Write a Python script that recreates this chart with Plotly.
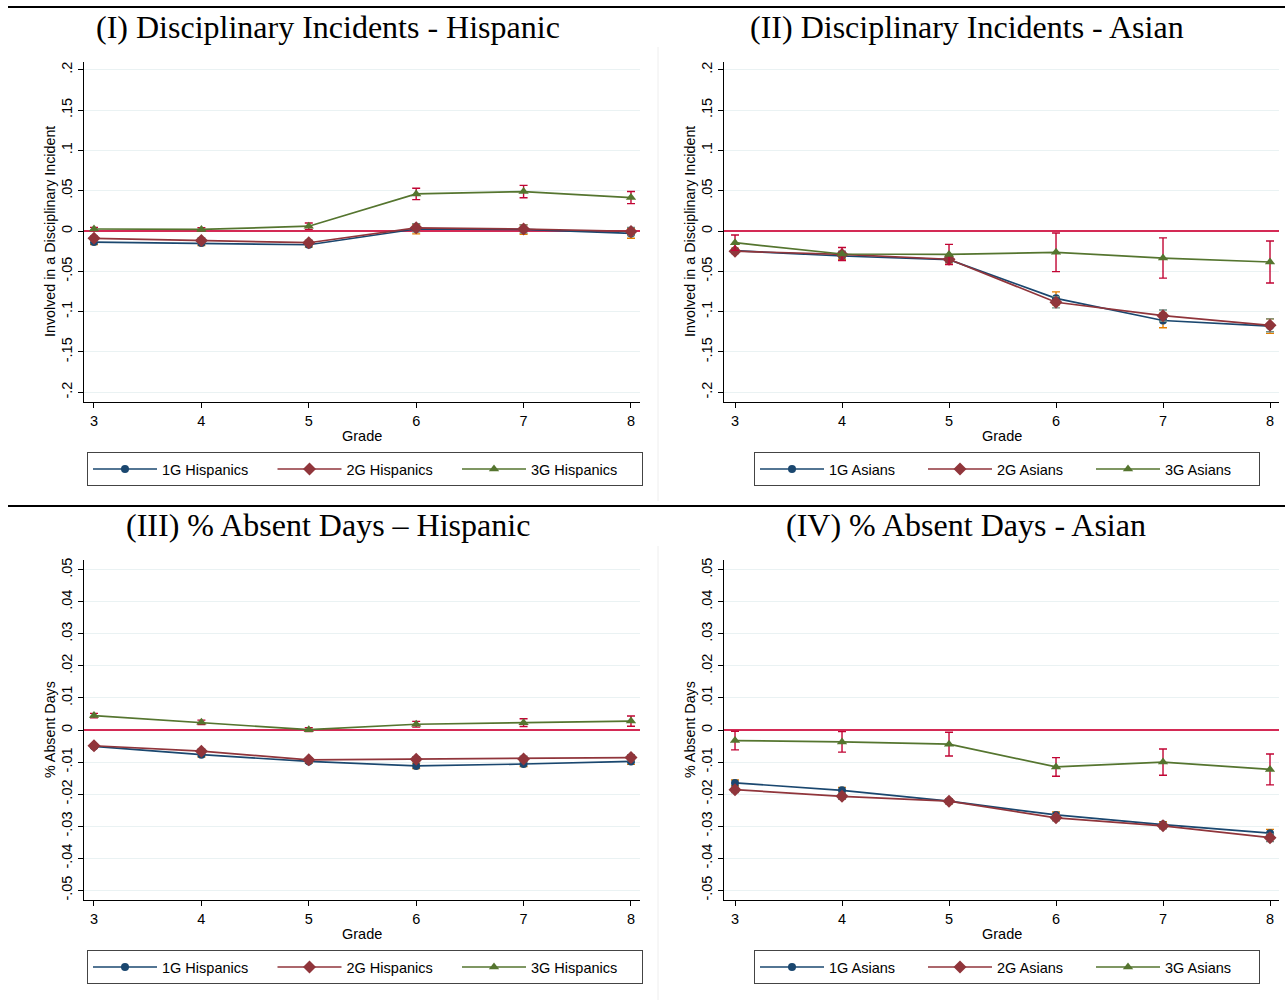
import plotly.graph_objects as go

# ---------------- data ----------------
grades = [3, 4, 5, 6, 7, 8]

# (I) Disciplinary incidents - Hispanic
h_disc_1g = [-0.0137, -0.015, -0.017, 0.0025, 0.002, -0.003]
h_disc_1g_ci = [0.003, 0.003, 0.003, 0.006, 0.006, 0.006]
h_disc_2g = [-0.009, -0.0116, -0.0145, 0.004, 0.0025, -0.0005]
h_disc_2g_ci = [0.003, 0.003, 0.003, 0.005, 0.005, 0.005]
h_disc_3g = [0.0025, 0.002, 0.006, 0.046, 0.049, 0.0415]
h_disc_3g_ci = [0.002, 0.002, 0.004, 0.007, 0.0077, 0.0075]

# (II) Disciplinary incidents - Asian
a_disc_1g = [-0.0244, -0.031, -0.0355, -0.0835, -0.111, -0.118]
a_disc_1g_ci = [0.003, 0.004, 0.004, 0.008, 0.009, 0.009]
a_disc_2g = [-0.025, -0.029, -0.035, -0.0884, -0.105, -0.117]
a_disc_2g_ci = [0.003, 0.004, 0.004, 0.007, 0.007, 0.008]
a_disc_3g = [-0.0145, -0.0285, -0.029, -0.0264, -0.0335, -0.0384]
a_disc_3g_ci = [0.0095, 0.008, 0.0125, 0.024, 0.025, 0.026]

# (III) % Absent days - Hispanic
h_abs_1g = [-0.0051, -0.0077, -0.0098, -0.0112, -0.0106, -0.0098]
h_abs_1g_ci = [0.0006, 0.0007, 0.0006, 0.0008, 0.0008, 0.0009]
h_abs_2g = [-0.0049, -0.0066, -0.0093, -0.0091, -0.009, -0.0086]
h_abs_2g_ci = [0.0006, 0.0007, 0.0006, 0.0008, 0.0008, 0.0009]
h_abs_3g = [0.0045, 0.0024, 0.0001, 0.0018, 0.0023, 0.0028]
h_abs_3g_ci = [0.0007, 0.0007, 0.0006, 0.0009, 0.0012, 0.0016]

# (IV) % Absent days - Asian
a_abs_1g = [-0.0165, -0.0188, -0.0222, -0.0265, -0.0295, -0.0322]
a_abs_1g_ci = [0.0009, 0.0009, 0.0008, 0.0009, 0.0009, 0.0012]
a_abs_2g = [-0.0186, -0.0207, -0.0222, -0.0274, -0.0299, -0.0336]
a_abs_2g_ci = [0.0009, 0.0009, 0.0008, 0.0009, 0.0009, 0.0012]
a_abs_3g = [-0.0033, -0.0037, -0.0044, -0.0115, -0.010, -0.0123]
a_abs_3g_ci = [0.0029, 0.0032, 0.0037, 0.0029, 0.0041, 0.0048]

disc_ticks = [-0.2, -0.15, -0.1, -0.05, 0, 0.05, 0.1, 0.15, 0.2]
disc_ticktext = ["-.2", "-.15", "-.1", "-.05", "0", ".05", ".1", ".15", ".2"]
abs_ticks = [-0.05, -0.04, -0.03, -0.02, -0.01, 0, 0.01, 0.02, 0.03, 0.04, 0.05]
abs_ticktext = ["-.05", "-.04", "-.03", "-.02", "-.01", "0", ".01", ".02", ".03", ".04", ".05"]

titles = ["(I) Disciplinary Incidents - Hispanic", "(II) Disciplinary Incidents - Asian",
          "(III) % Absent Days \u2013 Hispanic", "(IV) % Absent Days - Asian"]
hisp_names = ["1G Hispanics", "2G Hispanics", "3G Hispanics"]
asian_names = ["1G Asians", "2G Asians", "3G Asians"]
disc_ytitle = "Involved in a Disciplinary Incident"
abs_ytitle = "% Absent Days"
xtitle = "Grade"

# ---------------- style ----------------
W, H = 1285, 1000
line_colors = ["#1a476f", "#90353b", "#55752f"]
err_colors = ["#e37e00", "#6e8e84", "#c10534"]
symbols = ["circle", "diamond", "triangle-up"]
msizes = [8, 10, 9]
FONT = "Arial, Liberation Sans, sans-serif"
SERIF = "Times New Roman, Liberation Serif, serif"

def px_x(p):
    return p / W

def px_y(p):
    return 1 - p / H

panels = [
    dict(series=[(h_disc_1g, h_disc_1g_ci), (h_disc_2g, h_disc_2g_ci), (h_disc_3g, h_disc_3g_ci)],
         names=hisp_names, ticks=disc_ticks, ticktext=disc_ticktext, ytitle=disc_ytitle,
         xpx=(84, 640), ypx=(60, 401), xr=(2.907, 8.084), yr=(-0.2124, 0.2099),
         leg=(365, 468), entry=105.5),
    dict(series=[(a_disc_1g, a_disc_1g_ci), (a_disc_2g, a_disc_2g_ci), (a_disc_3g, a_disc_3g_ci)],
         names=asian_names, ticks=disc_ticks, ticktext=disc_ticktext, ytitle=disc_ytitle,
         xpx=(724, 1279), ypx=(60, 401), xr=(2.897, 8.084), yr=(-0.2124, 0.2099),
         leg=(1007, 468), entry=89),
    dict(series=[(h_abs_1g, h_abs_1g_ci), (h_abs_2g, h_abs_2g_ci), (h_abs_3g, h_abs_3g_ci)],
         names=hisp_names, ticks=abs_ticks, ticktext=abs_ticktext, ytitle=abs_ytitle,
         xpx=(84, 640), ypx=(559, 900), xr=(2.907, 8.084), yr=(-0.0531, 0.0531),
         leg=(365, 967), entry=105.5),
    dict(series=[(a_abs_1g, a_abs_1g_ci), (a_abs_2g, a_abs_2g_ci), (a_abs_3g, a_abs_3g_ci)],
         names=asian_names, ticks=abs_ticks, ticktext=abs_ticktext, ytitle=abs_ytitle,
         xpx=(724, 1279), ypx=(559, 900), xr=(2.897, 8.084), yr=(-0.0531, 0.0531),
         leg=(1007, 967), entry=89),
]
title_centers = [(328, 25), (967, 25), (328, 524), (966, 524)]

fig = go.Figure()
layout = dict(width=W, height=H, autosize=False, margin=dict(l=0, r=0, t=0, b=0),
              paper_bgcolor="white", plot_bgcolor="white", showlegend=True,
              font=dict(family=FONT, size=14, color="black"))
shapes = []
annotations = []

for i, p in enumerate(panels):
    k = "" if i == 0 else str(i + 1)
    xa, ya = "x" + k, "y" + k
    legname = "legend" + k
    for j, (vals, ci) in enumerate(p["series"]):
        fig.add_trace(go.Scatter(
            x=grades, y=vals, name=p["names"][j], mode="lines+markers",
            xaxis=xa, yaxis=ya, legend=legname,
            line=dict(color=line_colors[j], width=1.7),
            marker=dict(symbol=symbols[j], size=msizes[j], color=line_colors[j]),
            error_y=dict(type="data", array=ci, visible=True, color=err_colors[j],
                         thickness=1.4, width=4),
        ))
    layout["xaxis" + k] = dict(
        domain=[px_x(p["xpx"][0]), px_x(p["xpx"][1])], range=list(p["xr"]), anchor=ya,
        tickvals=grades, ticktext=[str(g) for g in grades], ticks="outside", ticklen=5,
        tickcolor="black", showline=True, linecolor="black", linewidth=1,
        showgrid=False, zeroline=False, tickfont=dict(family=FONT, size=14.5, color="black"))
    # the zero reference line is the y axis zeroline (red)
    layout["yaxis" + k] = dict(
        domain=[px_y(p["ypx"][1]), px_y(p["ypx"][0])], range=list(p["yr"]), anchor=xa,
        tickvals=p["ticks"], ticktext=p["ticktext"], tickangle=-90, ticks="outside",
        ticklen=5, tickcolor="black", showline=True, linecolor="black", linewidth=1,
        showgrid=True, gridcolor="#eaf2f3", gridwidth=1,
        zeroline=True, zerolinecolor="#d42a55", zerolinewidth=1.6,
        tickfont=dict(family=FONT, size=14.5, color="black"))
    # y title
    annotations.append(dict(text=p["ytitle"], textangle=-90, xref="paper", yref="paper",
                            x=px_x(p["xpx"][0] - 34), y=px_y((p["ypx"][0] + p["ypx"][1]) / 2),
                            xanchor="center", yanchor="middle",
                            showarrow=False, font=dict(family=FONT, size=14.3, color="black")))
    # x title
    annotations.append(dict(text=xtitle, xref="paper", yref="paper",
                            x=px_x((p["xpx"][0] + p["xpx"][1]) / 2), y=px_y(p["ypx"][1] + 34),
                            xanchor="center", yanchor="middle",
                            showarrow=False, font=dict(family=FONT, size=14.5, color="black")))
    # panel title
    tx, ty = title_centers[i]
    annotations.append(dict(text=titles[i], xref="paper", yref="paper", x=px_x(tx), y=px_y(ty),
                            xanchor="center", yanchor="middle",
                            showarrow=False, font=dict(family=SERIF, size=32, color="black")))
    # legend
    layout[legname] = dict(
        orientation="h", x=px_x(p["leg"][0]), y=px_y(p["leg"][1]), xanchor="center",
        yanchor="middle", bordercolor="#444444", borderwidth=1, bgcolor="white",
        font=dict(family=FONT, size=14.5, color="black"), itemwidth=64,
        entrywidth=p["entry"], entrywidthmode="pixels", traceorder="normal")

# page separator lines
shapes.append(dict(type="line", xref="paper", yref="paper", x0=px_x(8), x1=1, y0=px_y(5), y1=px_y(5),
                   line=dict(color="black", width=2)))
shapes.append(dict(type="line", xref="paper", yref="paper", x0=px_x(8), x1=1, y0=px_y(505), y1=px_y(505),
                   line=dict(color="black", width=2)))
# faint panel image borders
shapes.append(dict(type="line", xref="paper", yref="paper", x0=px_x(658), x1=px_x(658), y0=px_y(45), y1=px_y(500),
                   line=dict(color="#eeeeee", width=1)))
shapes.append(dict(type="line", xref="paper", yref="paper", x0=px_x(658), x1=px_x(658), y0=px_y(545), y1=px_y(1000),
                   line=dict(color="#eeeeee", width=1)))

layout["shapes"] = shapes
layout["annotations"] = annotations
fig.update_layout(**layout)
fig.write_html("out.html", config={"displayModeBar": False},
               post_script="document.body.style.margin='0px';document.body.style.overflow='hidden';")
